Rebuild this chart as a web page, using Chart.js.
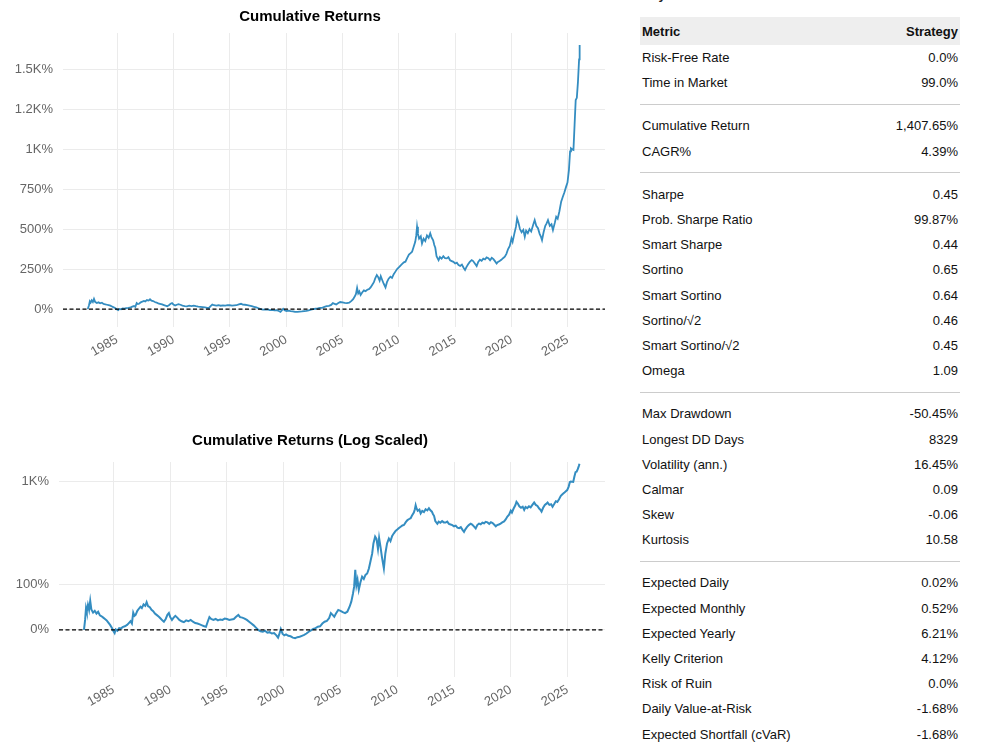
<!DOCTYPE html>
<html>
<head>
<meta charset="utf-8">
<script src="https://cdn.jsdelivr.net/npm/chart.js@4"></script>
<style>
  html, body { margin: 0; padding: 0; background: #fff; }
  body { width: 982px; height: 747px; position: relative; overflow: hidden; font-family: "Liberation Sans", Arial, sans-serif; }
  #box1 { position: absolute; left: 0; top: 0; width: 620px; height: 380px; }
  #box2 { position: absolute; left: 0; top: 420px; width: 620px; height: 327px; }
  #cut-title { position: absolute; left: 642px; top: -13px; font-size: 13px; font-weight: bold; color: #222; }
  #metrics { position: absolute; left: 640px; top: 17px; width: 320px; font-size: 13px; color: #111; }
  .row { display: flex; justify-content: space-between; align-items: center; height: 25.2px; padding: 0 2px; }
  .head { height: 28px; background: #eee; font-weight: bold; }
  .sep { height: 18px; display: flex; align-items: center; }
  .sep div { width: 100%; border-top: 1px solid #ccc; }
</style>
</head>
<body>
<div id="box1"><canvas id="chart1" width="620" height="380"></canvas></div>
<div id="box2"><canvas id="chart2" width="620" height="327"></canvas></div>
<div id="cut-title">Key Performance Metrics</div>
<div id="metrics"></div>
<script>
// cumulative return of the strategy, in percent
const years = [
  1982.40, 1982.50, 1982.58, 1982.65, 1982.75, 1982.85, 1982.95, 1983.05, 1983.20, 1983.35,
  1983.50, 1983.65, 1983.80, 1983.95, 1984.10, 1984.25, 1984.40, 1984.55, 1984.70, 1984.85,
  1985.00, 1985.10, 1985.20, 1985.35, 1985.50, 1985.65, 1985.80, 1986.00, 1986.20, 1986.35,
  1986.50, 1986.62, 1986.74, 1986.85, 1986.95, 1987.10, 1987.25, 1987.38, 1987.50, 1987.65,
  1987.80, 1987.92, 1988.05, 1988.20, 1988.35, 1988.50, 1988.65, 1988.80, 1989.00, 1989.15,
  1989.30, 1989.44, 1989.60, 1989.75, 1989.88, 1990.00, 1990.15, 1990.30, 1990.45, 1990.62,
  1990.80, 1991.00, 1991.20, 1991.40, 1991.60, 1991.80, 1992.00, 1992.20, 1992.40, 1992.60,
  1992.80, 1993.00, 1993.15, 1993.30, 1993.45, 1993.60, 1993.80, 1994.00, 1994.20, 1994.40,
  1994.60, 1994.80, 1995.00, 1995.20, 1995.40, 1995.60, 1995.80, 1996.00, 1996.15, 1996.35,
  1996.55, 1996.75, 1996.95, 1997.15, 1997.35, 1997.55, 1997.75, 1997.95, 1998.15, 1998.35,
  1998.55, 1998.75, 1998.95, 1999.15, 1999.35, 1999.50, 1999.60, 1999.74, 1999.90, 2000.05,
  2000.20, 2000.40, 2000.60, 2000.80, 2001.00, 2001.20, 2001.40, 2001.60, 2001.80, 2002.00,
  2002.20, 2002.40, 2002.60, 2002.80, 2003.00, 2003.20, 2003.40, 2003.60, 2003.80, 2004.00,
  2004.15, 2004.30, 2004.45, 2004.60, 2004.80, 2005.00, 2005.20, 2005.40, 2005.60, 2005.80,
  2005.95, 2006.10, 2006.20, 2006.30, 2006.40, 2006.50, 2006.61, 2006.75, 2006.90, 2007.05,
  2007.20, 2007.35, 2007.50, 2007.65, 2007.79, 2007.90, 2008.05, 2008.17, 2008.30, 2008.40,
  2008.52, 2008.65, 2008.82, 2008.95, 2009.10, 2009.26, 2009.40, 2009.55, 2009.70, 2009.85,
  2010.00, 2010.15, 2010.30, 2010.45, 2010.59, 2010.75, 2010.90, 2011.05, 2011.18, 2011.30,
  2011.46, 2011.55, 2011.62, 2011.70, 2011.80, 2011.95, 2012.06, 2012.20, 2012.35, 2012.50,
  2012.65, 2012.79, 2012.90, 2013.05, 2013.15, 2013.24, 2013.35, 2013.53, 2013.65, 2013.80,
  2013.95, 2014.10, 2014.26, 2014.40, 2014.55, 2014.70, 2014.85, 2015.00, 2015.15, 2015.30,
  2015.45, 2015.60, 2015.75, 2015.88, 2016.00, 2016.15, 2016.30, 2016.47, 2016.60, 2016.75,
  2016.91, 2017.05, 2017.20, 2017.35, 2017.50, 2017.65, 2017.79, 2017.95, 2018.10, 2018.25,
  2018.40, 2018.55, 2018.68, 2018.80, 2018.95, 2019.10, 2019.25, 2019.41, 2019.55, 2019.70,
  2019.85, 2020.00, 2020.10, 2020.25, 2020.40, 2020.50, 2020.62, 2020.75, 2020.90, 2021.05,
  2021.18, 2021.30, 2021.45, 2021.60, 2021.75, 2021.90, 2022.06, 2022.20, 2022.35, 2022.50,
  2022.60, 2022.71, 2022.85, 2023.00, 2023.12, 2023.24, 2023.40, 2023.55, 2023.68, 2023.85,
  2023.97, 2024.10, 2024.25, 2024.41, 2024.55, 2024.70, 2024.85, 2024.97, 2025.10, 2025.20,
  2025.28, 2025.40, 2025.50, 2025.60, 2025.70, 2025.80, 2025.90, 2026.00, 2026.05
];
const cumReturns = [
  0, 22, 48, 40, 55, 44, 64, 45, 38, 42,
  36, 40, 32, 30, 27, 24, 21, 16, 11, 5,
  -3, -7, 1, -2, 4, 3, 6, 8, 11, 15,
  19, 14, 38, 31, 33, 42, 47, 51, 48, 56,
  53, 61, 52, 50, 44, 41, 36, 33, 29, 25,
  21, 18, 24, 33, 37, 28, 22, 27, 31, 27,
  22, 19, 17, 21, 19, 22, 18, 15, 14, 12,
  10, 8, 7, 18, 28, 24, 22, 24, 21, 23,
  22, 25, 24, 22, 23, 24, 29, 33, 28, 27,
  25, 22, 18, 14, 10, 5, 0, -3, -4, -2,
  -6, -5, -8, -7, -12, -17, -10, 2, -9, -12,
  -10, -13, -14, -17, -18, -16, -15, -13, -11, -8,
  -4, -1, 2, 4, 7, 8, 14, 18, 20, 26,
  37, 33, 29, 36, 44, 42, 39, 37, 40, 51,
  62, 80, 95, 132, 98, 110, 88, 104, 117, 112,
  121, 124, 135, 152, 168, 190, 213, 200, 178, 205,
  183, 160, 135, 168, 190, 202, 195, 218, 234, 250,
  260, 272, 282, 292, 296, 320, 340, 350, 358, 385,
  420, 460, 514, 470, 440, 455, 410, 440, 425, 460,
  445, 473, 450, 430, 400, 383, 330, 306, 325, 315,
  330, 318, 317, 325, 305, 300, 295, 285, 290, 275,
  270, 278, 258, 244, 262, 280, 295, 306, 300, 285,
  269, 295, 308, 302, 315, 310, 323, 318, 305, 320,
  312, 298, 285, 295, 300, 308, 318, 327, 345, 375,
  395, 442, 420, 470, 515, 567, 540, 500, 480, 495,
  452, 490, 475, 500, 485, 520, 556, 520, 505, 470,
  455, 431, 480, 520, 535, 556, 520, 530, 494, 540,
  577, 565, 610, 671, 700, 730, 765, 790, 870, 985,
  1004, 997, 994, 1150, 1306, 1320, 1420, 1560, 1650
];

const yearTicks = [1985, 1990, 1995, 2000, 2005, 2010, 2015, 2020, 2025];
const linTicks = [0, 250, 500, 750, 1000, 1250, 1500];
const linTickLabels = ['0%', '250%', '500%', '750%', '1K%', '1.2K%', '1.5K%'];
const logTicks = [0, 100, 1000];
const logTickLabels = ['0%', '100%', '1K%'];

const metricNames = [
  'Risk-Free Rate', 'Time in Market', null,
  'Cumulative Return', 'CAGR%', null,
  'Sharpe', 'Prob. Sharpe Ratio', 'Smart Sharpe', 'Sortino', 'Smart Sortino',
  'Sortino/√2', 'Smart Sortino/√2', 'Omega', null,
  'Max Drawdown', 'Longest DD Days', 'Volatility (ann.)', 'Calmar', 'Skew', 'Kurtosis', null,
  'Expected Daily', 'Expected Monthly', 'Expected Yearly', 'Kelly Criterion',
  'Risk of Ruin', 'Daily Value-at-Risk', 'Expected Shortfall (cVaR)'
];
const metricValues = [
  '0.0%', '99.0%', null,
  '1,407.65%', '4.39%', null,
  '0.45', '99.87%', '0.44', '0.65', '0.64',
  '0.46', '0.45', '1.09', null,
  '-50.45%', '8329', '16.45%', '0.09', '-0.06', '10.58', null,
  '0.02%', '0.52%', '6.21%', '4.12%',
  '0.0%', '-1.68%', '-1.68%'
];

// matplotlib style symlog, linthresh 2 (=200%)
function symlog(pct) {
  const v = pct / 100, adj = 1 / (1 - 0.1);
  if (Math.abs(v) <= 2) return v * adj;
  return Math.sign(v) * 2 * (adj + Math.log10(Math.abs(v) / 2));
}

const FONT = '"Liberation Sans", Arial, sans-serif';
const lineColor = '#348dc1';
const gridColor = '#ebebeb';

const zeroLine = {
  id: 'zeroLine',
  afterDatasetsDraw(chart) {
    const { ctx, chartArea, scales } = chart;
    const y = scales.y.getPixelForValue(0);
    ctx.save();
    ctx.strokeStyle = '#000';
    ctx.lineWidth = 1.2;
    ctx.setLineDash([4, 2.5]);
    ctx.beginPath();
    ctx.moveTo(chartArea.left, y);
    ctx.lineTo(chartArea.right, y);
    ctx.stroke();
    ctx.restore();
  }
};

function makeChart(canvasId, title, titlePad, values, yMin, yMax, yTicks, yTickLabels, yFn, leftW, bottomH, lw) {
  const pts = years.map((yr, i) => ({ x: yr, y: yFn(values[i]) }));
  return new Chart(document.getElementById(canvasId).getContext('2d'), {
    type: 'line',
    data: {
      datasets: [{
        data: pts,
        borderColor: lineColor,
        borderWidth: lw,
        pointRadius: 0,
        tension: 0,
        fill: false
      }]
    },
    options: {
      responsive: false,
      animation: false,
      // equal side padding keeps the title centred on the figure
      layout: { padding: { left: 15, right: 15, top: 0, bottom: 0 } },
      plugins: {
        legend: { display: false },
        tooltip: { enabled: false },
        title: {
          display: true,
          text: title,
          color: '#000',
          font: { family: FONT, size: 15, weight: 'bold' },
          padding: titlePad
        }
      },
      scales: {
        x: {
          type: 'linear',
          min: 1980.2,
          max: 2028.3,
          afterBuildTicks: s => { s.ticks = yearTicks.map(v => ({ value: v })); },
          afterFit: s => { s.height = bottomH; },
          grid: { color: gridColor, drawTicks: false },
          border: { display: false },
          ticks: {
            color: '#666',
            font: { family: FONT, size: 13 },
            minRotation: 30,
            maxRotation: 30,
            padding: 5,
            autoSkip: false,
            callback: v => String(v)
          }
        },
        y: {
          type: 'linear',
          min: yMin,
          max: yMax,
          afterBuildTicks: s => { s.ticks = yTicks.map(v => ({ value: yFn(v) })); },
          afterFit: s => { s.width = leftW - 15; },
          grid: { color: gridColor, drawTicks: false },
          border: { display: false },
          ticks: {
            color: '#666',
            font: { family: FONT, size: 13 },
            padding: 10,
            callback: (v, i) => yTickLabels[i]
          }
        }
      }
    },
    plugins: [zeroLine]
  });
}

makeChart('chart1', 'Cumulative Returns', { top: 8, bottom: 7 }, cumReturns,
  -112, 1725, linTicks, linTickLabels, v => v, 63, 53, 1.8);
makeChart('chart2', 'Cumulative Returns (Log Scaled)', { top: 12, bottom: 12 }, cumReturns,
  -1.15, 4.10, logTicks, logTickLabels, symlog, 59, 70, 2);

// metrics table
const table = document.getElementById('metrics');
let html = '<div class="row head"><span>Metric</span><span>Strategy</span></div>';
metricNames.forEach((name, i) => {
  if (name === null) {
    html += '<div class="sep"><div></div></div>';
  } else {
    html += '<div class="row"><span>' + name + '</span><span>' + metricValues[i] + '</span></div>';
  }
});
table.innerHTML = html;
</script>
</body>
</html>
